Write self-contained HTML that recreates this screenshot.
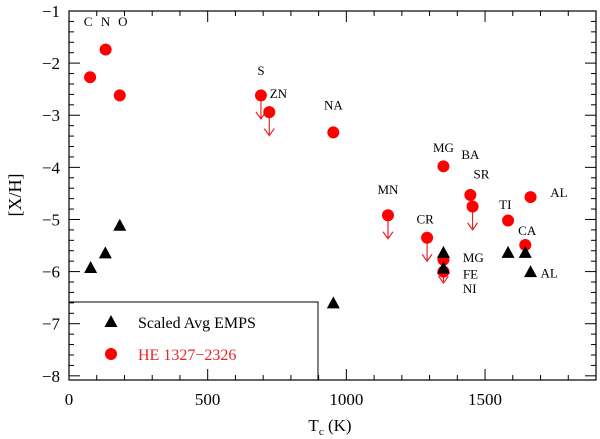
<!DOCTYPE html>
<html><head><meta charset="utf-8"><style>
html,body{margin:0;padding:0;background:#fff;}
svg{display:block;}
svg text{font-family:"Liberation Serif","DejaVu Serif",serif;}
</style></head><body>
<svg id="chart" width="600" height="439" viewBox="0 0 600 439" xmlns="http://www.w3.org/2000/svg" font-family="Liberation Serif, serif">
<g id="axes"></g>
<g id="marks"></g>
<g id="legend"></g>
</svg>
<script>
// Data
const xTicks = [0, 500, 1000, 1500];
const yTicks = [-1, -2, -3, -4, -5, -6, -7, -8];
const triT = [78, 131, 183, 953, 1350, 1350, 1583, 1645, 1664];
const triV = [-5.93, -5.65, -5.12, -6.61, -5.64, -5.94, -5.64, -5.64, -6.01];
const redT = [76, 132, 183, 692, 722, 953, 1150, 1291, 1350, 1350, 1350, 1447, 1455, 1583, 1645, 1664];
const redV = [-2.27, -1.74, -2.62, -2.62, -2.94, -3.33, -4.92, -5.35, -3.98, -5.77, -6.0, -4.53, -4.75, -5.02, -5.49, -4.57];
const redLimit = [0, 0, 0, 1, 1, 0, 1, 1, 0, 1, 0, 0, 1, 0, 0, 0];
const labelText = ["C", "N", "O", "S", "ZN", "NA", "MN", "CR", "MG", "BA", "SR", "TI", "CA", "AL", "MG", "FE", "NI", "AL"];
const labelT = [69, 132, 194, 692, 755, 953, 1150, 1284, 1350, 1447, 1487, 1573, 1652, 1735, 1420, 1420, 1420, 1700];
const labelV = [-1.29, -1.29, -1.29, -2.23, -2.67, -2.89, -4.51, -5.08, -3.71, -3.84, -4.21, -4.8, -5.3, -4.57, -5.82, -6.13, -6.41, -6.11];
const labelAnchor = ["middle","middle","middle","middle","middle","middle","middle","middle","middle","middle","middle","middle","middle","start","start","start","start","start"];

const L = 69, R = 596, T = 11, B = 380;
const xMin = 0, xMax = 1900, yMin = -8.08, yMax = -1;
const sx = v => L + (v - xMin) / (xMax - xMin) * (R - L);
const sy = v => T + (yMax - v) / (yMax - yMin) * (B - T);
const NS = "http://www.w3.org/2000/svg";
function mk(tag, attrs, parent, text) {
  const e = document.createElementNS(NS, tag);
  for (const k in attrs) e.setAttribute(k, attrs[k]);
  if (text !== undefined) e.textContent = text;
  parent.appendChild(e);
  return e;
}
const axes = document.getElementById('axes');
const marks = document.getElementById('marks');
const legend = document.getElementById('legend');

const frame = mk('rect', {x: L, y: T, width: R - L, height: B - T, fill: 'none', stroke: '#000', 'stroke-width': 1.2}, axes);



for (let v = 0; v <= 1900; v += 100) {
  const x = sx(v), len = v % 500 === 0 ? 11 : 5;
  const t1 = mk('line', {x1: x, y1: B, x2: x, y2: B - len, stroke: '#000', 'stroke-width': 1}, axes);
  
  
  const t2 = mk('line', {x1: x, y1: T, x2: x, y2: T + len, stroke: '#000', 'stroke-width': 1}, axes);
  
  
}
xTicks.forEach(v => {
  const t = mk('text', {x: sx(v), y: 405, 'text-anchor': 'middle', 'font-size': 17}, axes, String(v));
  
  
});
for (let i = 0; i <= 35; i++) {
  const v = -1 - i * 0.2, y = sy(v), len = i % 5 === 0 ? 11 : 5;
  const t1 = mk('line', {x1: L, y1: y, x2: L + len, y2: y, stroke: '#000', 'stroke-width': 1}, axes);
  
  
  const t2 = mk('line', {x1: R, y1: y, x2: R - len, y2: y, stroke: '#000', 'stroke-width': 1}, axes);
  
  
}
yTicks.forEach(v => {
  const t = mk('text', {x: 60, y: sy(v) + 6, 'text-anchor': 'end', 'font-size': 17}, axes, '\u2212' + String(Math.abs(v)));
  
  
});
const xt = mk('text', {x: 330, y: 431, 'text-anchor': 'middle', 'font-size': 17}, axes);


xt.innerHTML = 'T<tspan font-size="11" dy="4">c</tspan><tspan dy="-4"> (K)</tspan>';
const yt = mk('text', {x: 0, y: 0, 'text-anchor': 'middle', 'font-size': 18, transform: 'translate(21,195) rotate(-90)'}, axes, '[X/H]');



redT.forEach((t, i) => {
  const x = sx(t), y = sy(redV[i]);
  if (redLimit[i]) {
    const yb = sy(redV[i] - 0.45);
    const a = mk('path', {d: `M${x},${y} L${x},${yb} M${x - 5},${yb - 7} L${x},${yb} L${x + 5},${yb - 7}`, stroke: '#e8242a', 'stroke-width': 1.2, fill: 'none'}, marks);
    
    
  }
  const c = mk('circle', {cx: x, cy: y, r: 6, fill: '#ff0000'}, marks);
  
  
});
triT.forEach((t, i) => {
  const x = sx(t), y = sy(triV[i]);
  const p = mk('polygon', {points: `${x - 6.5},${y + 5} ${x + 6.5},${y + 5} ${x},${y - 7}`, fill: '#000'}, marks);
  
  
});
labelText.forEach((s, i) => {
  const t = mk('text', {x: sx(labelT[i]), y: sy(labelV[i]), 'text-anchor': labelAnchor[i], 'font-size': 13}, marks, s);
  
  
});

const lb = mk('path', {d: `M${L},302 L318,302 L318,${B}`, fill: 'none', stroke: '#000', 'stroke-width': 1}, legend);


const lt = mk('polygon', {points: '104.5,327 117.5,327 111,315', fill: '#000'}, legend);


const ltx = mk('text', {x: 138, y: 328, 'font-size': 16}, legend, 'Scaled Avg EMPS');


const lc = mk('circle', {cx: 111, cy: 354, r: 6, fill: '#ff0000'}, legend);


const lcx = mk('text', {x: 138, y: 360, 'font-size': 16, fill: '#e8242a'}, legend, 'HE 1327\u22122326');


</script>
</body></html>
